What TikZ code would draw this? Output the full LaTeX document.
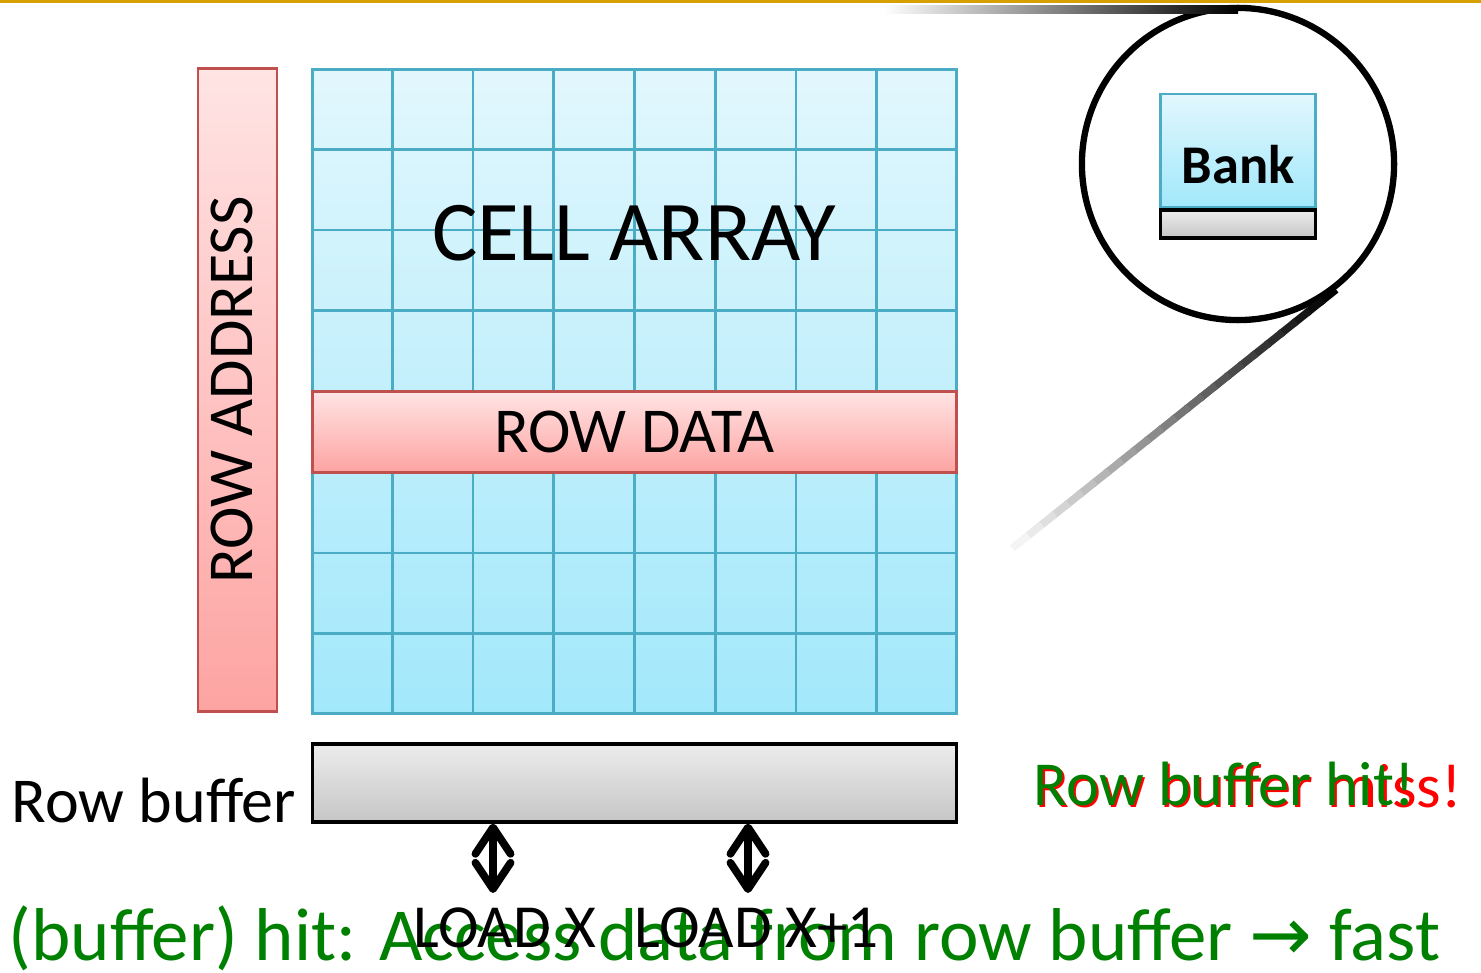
\documentclass[tikz,border=0pt]{standalone}
\usepackage{fontspec}
\setmainfont{Carlito}
\newfontfamily\arrowfont{DejaVu Sans}
\usetikzlibrary{positioning,calc,arrows.meta}
\definecolor{gold}{RGB}{214,160,0}
\definecolor{cellline}{RGB}{75,172,198}
\definecolor{celltop}{RGB}{226,247,253}
\definecolor{cellbot}{RGB}{162,232,251}
\definecolor{rowtop}{RGB}{255,228,228}
\definecolor{rowbot}{RGB}{253,164,162}
\definecolor{rowline}{RGB}{192,80,77}
\definecolor{buftop}{RGB}{236,236,236}
\definecolor{bufbot}{RGB}{198,198,198}
\definecolor{hitgreen}{RGB}{0,128,0}
\definecolor{missred}{RGB}{255,0,0}
\tikzset{
  cellbox/.style={draw=cellline, line width=0.8pt, top color=celltop, bottom color=cellbot, inner sep=0pt},
  gridline/.style={cellline, line width=0.8pt},
  rowbox/.style={draw=rowline, line width=0.8pt, top color=rowtop, bottom color=rowbot, inner sep=0pt},
  bufbox/.style={draw=black, line width=0.9pt, top color=buftop, bottom color=bufbot, inner sep=0pt},
  bigtext/.style={font=\fontsize{24.2pt}{27pt}\selectfont, inner sep=0pt},
  midtext/.style={font=\fontsize{18.2pt}{21pt}\selectfont, inner sep=0pt},
  smalltext/.style={font=\fontsize{17.4pt}{20pt}\selectfont, inner sep=0pt},
  loadarrow/.style={line width=2.2pt, {Straight Barb[round, length=7.5pt, width=10pt]}-{Straight Barb[round, length=7.5pt, width=10pt]}}
}

\begin{document}
\begin{tikzpicture}[x=0.01cm, y=-0.01cm]
\useasboundingbox (0,0) rectangle (1481,973);
% Title rule
    \fill[gold] (0,0) rectangle (1481,3);
% Bank in the zoom circle
    \node[circle, draw, line width=1.8pt, minimum size=3.12cm, inner sep=0pt] (zoom) at (1238,164) {};
    \node[cellbox, minimum width=1.55cm, minimum height=1.13cm] (bank) at (1238,150.5) {};
    \node[bufbox, minimum width=1.55cm, minimum height=0.28cm, below=0pt of bank] (bankbuf) {};
    \node[font=\fontsize{15.5pt}{18pt}\selectfont\bfseries, inner sep=0pt] (banklbl) at (1238,165) {Bank};
% Callout lines
    \coordinate (fadeA) at (883,6);
    \coordinate (fadeB) at (1015,546);
    \coordinate (fadeC) at (1238,14);
    \shade[left color=white, right color=black] (fadeA) rectangle (fadeC);
    \foreach \i [evaluate=\i as \c using 100-\i*100/24] in {0,...,23}
        \draw[line width=2.2pt, black!\c] ($(zoom.-52)!{\i/24}!(fadeB)$) -- ($(zoom.-52)!{(\i+1.2)/24}!(fadeB)$);
% Row address
    \node[rowbox, minimum width=0.79cm, minimum height=6.43cm] (addr) at (237.5,390) {};
    \node[midtext, rotate=90] (addrlbl) at (232,390) {ROW ADDRESS};
% Cell array and its grid
    \node[cellbox, minimum width=6.43cm, minimum height=6.43cm] (cells) at (634.5,391.5) {};
    \foreach \i in {1,...,7} {
        \draw[gridline] ($(cells.north west)!{\i/8}!(cells.north east)$) -- ($(cells.south west)!{\i/8}!(cells.south east)$);
        \draw[gridline] ($(cells.north west)!{\i/8}!(cells.south west)$) -- ($(cells.north east)!{\i/8}!(cells.south east)$);
    }
    \node[bigtext] (celllbl) at (634,233) {CELL ARRAY};
    \node[rowbox, midtext, minimum width=6.43cm, minimum height=0.81cm] (rowdata) at (634.5,432) {ROW DATA};
% Row buffer
    \node[bufbox, minimum width=6.43cm, minimum height=0.78cm] (buf) at (634.5,783) {};
    \node[midtext, anchor=base west] (buflbl) at (11,822) {Row buffer};
% Loads
    \coordinate (ldA) at (493,893);
    \coordinate (ldB) at (748,893);
    \draw[loadarrow] (buf.south -| ldA) -- (ldA);
    \draw[loadarrow] (buf.south -| ldB) -- (ldB);
% Hit / miss
    \node[font=\fontsize{17.8pt}{20pt}\selectfont, missred, anchor=base west, inner sep=0pt] (miss) at (1035,807) {Row buffer miss!};
    \node[font=\fontsize{17.8pt}{20pt}\selectfont, hitgreen, anchor=base west, inner sep=0pt] (hit) at (1033,805) {Row buffer hit!};
    \node[font=\fontsize{21.3pt}{24pt}\selectfont, hitgreen, anchor=base west, inner sep=0pt] (hitnote) at (8,960) {(buffer) hit: Access data from row buffer {\arrowfont →} fast};
    \node[smalltext, anchor=base west] (loadx) at (413,947) {LOAD X};
    \node[smalltext, anchor=base west] (loadxx) at (634,947) {LOAD X+1};
\end{tikzpicture}
\end{document}
